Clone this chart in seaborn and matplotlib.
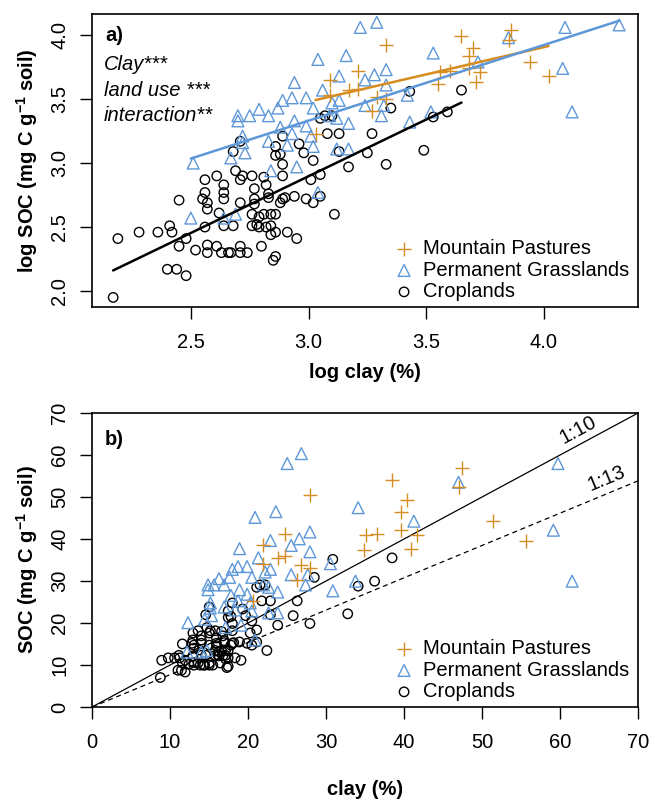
import numpy as np
import pandas as pd
import seaborn as sns
import matplotlib.pyplot as plt

# values (natural log); panel b shows the same samples back-transformed
crop_log_clay = [2.17, 2.19, 2.28, 2.36, 2.41, 2.42, 2.40, 2.44, 2.48, 2.45, 2.48, 2.45, 2.52,
                 2.56, 2.61, 2.64, 2.64, 2.64, 2.55, 2.56, 2.57, 2.57, 2.56, 2.57, 2.57, 2.61,
                 2.63, 2.62, 2.68, 2.64, 2.67, 2.71, 2.71, 2.74, 2.66, 2.69, 2.71, 2.72, 2.76,
                 2.71, 2.77, 2.77, 2.77, 2.76, 2.79, 2.79, 2.81, 2.80, 2.85, 2.82, 2.83, 2.84,
                 2.86, 2.86, 2.84, 2.89, 2.86, 2.89, 2.88, 2.90, 2.91, 2.94, 2.95, 2.98, 2.99,
                 3.02, 3.01, 3.02, 3.05, 3.11, 3.17, 3.25, 3.33, 2.68, 2.88, 2.96, 2.83, 2.89,
                 2.76, 2.78, 2.82, 2.84, 2.86, 2.89, 3.08, 3.05, 3.10, 3.13, 3.27, 3.05, 2.81,
                 3.07, 3.13, 2.86, 2.71, 3.43, 3.35, 3.65, 3.59, 3.53, 3.49]
crop_log_soc = [1.95, 2.41, 2.46, 2.46, 2.51, 2.46, 2.17, 2.17, 2.12, 2.35, 2.41, 2.71, 2.32,
                2.87, 2.90, 2.83, 2.77, 2.72, 2.72, 2.77, 2.69, 2.64, 2.50, 2.36, 2.30, 2.35,
                2.30, 2.61, 2.51, 2.51, 2.30, 2.35, 2.30, 2.30, 2.30, 2.94, 2.87, 2.90, 2.90,
                2.69, 2.80, 2.72, 2.68, 2.51, 2.50, 2.58, 2.60, 2.35, 2.24, 2.83, 2.76, 2.60,
                2.46, 2.60, 2.51, 2.99, 3.06, 2.90, 2.69, 2.73, 2.46, 2.74, 2.41, 3.08, 2.72,
                2.69, 2.87, 3.02, 2.74, 2.60, 2.97, 3.08, 2.99, 3.09, 3.07, 3.15, 2.73, 2.72,
                2.60, 2.52, 2.50, 2.44, 2.27, 3.21, 3.23, 3.35, 3.37, 3.09, 3.23, 2.91, 2.89,
                3.37, 3.23, 3.13, 3.17, 3.56, 3.43, 3.57, 3.40, 3.36, 3.10]

grass_log_clay = [2.51, 2.67, 2.73, 2.72, 2.83, 2.91, 3.02, 2.84, 2.95, 3.04, 2.50, 2.64, 2.69,
                  3.12, 3.17, 3.22, 3.29, 3.04, 3.16, 3.33, 2.94, 3.13, 3.06, 2.99, 2.89, 2.93,
                  2.87, 2.79, 2.75, 2.70, 2.83, 2.94, 3.02, 3.10, 3.13, 3.24, 3.28, 3.24, 3.31,
                  3.17, 3.12, 2.88, 2.93, 3.01, 2.72, 2.70, 4.09, 4.32, 3.85, 3.53, 4.08, 3.72,
                  3.33, 3.42, 3.32, 3.52, 3.43, 4.12, 3.09, 2.99]
grass_log_soc = [3.00, 3.04, 3.08, 3.16, 3.17, 3.14, 3.13, 2.94, 2.97, 2.77, 2.57, 2.57, 2.60,
                 3.11, 3.11, 4.06, 4.10, 3.81, 3.84, 3.73, 3.63, 3.68, 3.57, 3.51, 3.49, 3.51,
                 3.43, 3.42, 3.37, 3.37, 3.37, 3.33, 3.43, 3.47, 3.49, 3.65, 3.69, 3.45, 3.37,
                 3.31, 3.35, 3.28, 3.23, 3.21, 3.21, 3.33, 4.06, 4.08, 3.98, 3.86, 3.74, 3.79,
                 3.61, 3.53, 3.45, 3.40, 3.32, 3.40, 3.37, 3.29]

mount_log_clay = [3.33, 3.21, 3.09, 3.17, 3.21, 3.29, 3.27, 3.03, 3.65, 3.86, 3.85, 3.70, 3.68,
                  3.56, 3.60, 3.68, 3.73, 3.55, 3.71, 3.94, 4.02, 3.33, 3.09]
mount_log_soc = [3.92, 3.72, 3.65, 3.57, 3.58, 3.52, 3.41, 3.23, 3.99, 4.04, 3.96, 3.90, 3.84,
                 3.71, 3.72, 3.74, 3.71, 3.62, 3.63, 3.79, 3.68, 3.50, 3.53]

land_uses = ["Mountain Pastures", "Permanent Grasslands", "Croplands"]
stats_text = ["Clay***", "land use ***", "interaction**"]
ratio_labels = ["1:10", "1:13"]
ratios = [10, 13]

colors = {"Mountain Pastures": "#D68C1E", "Permanent Grasslands": "#5E97D8", "Croplands": "black"}
markers = {"Mountain Pastures": "+", "Permanent Grasslands": "^", "Croplands": "o"}
sizes = {"Mountain Pastures": 100, "Permanent Grasslands": 72, "Croplands": 46}

df = pd.concat([
    pd.DataFrame({"log_clay": crop_log_clay, "log_soc": crop_log_soc, "use": "Croplands"}),
    pd.DataFrame({"log_clay": grass_log_clay, "log_soc": grass_log_soc, "use": "Permanent Grasslands"}),
    pd.DataFrame({"log_clay": mount_log_clay, "log_soc": mount_log_soc, "use": "Mountain Pastures"}),
], ignore_index=True)
df["clay"] = np.exp(df["log_clay"])
df["soc"] = np.exp(df["log_soc"])

sns.set_theme(style="ticks")
plt.rcParams["font.family"] = ["Liberation Sans", "DejaVu Sans"]
plt.rcParams["mathtext.fontset"] = "custom"
plt.rcParams["mathtext.rm"] = "Liberation Sans"
plt.rcParams["mathtext.bf"] = "Liberation Sans:bold"
plt.rcParams["mathtext.it"] = "Liberation Sans:italic"
for key in ["text.color", "axes.labelcolor", "xtick.color", "ytick.color", "axes.edgecolor"]:
    plt.rcParams[key] = "black"

FS = 14.5
fig = plt.figure(figsize=(6.51, 8.05), dpi=100)
ax1 = fig.add_axes([0.1413, 0.6186, 0.8387, 0.3640])
ax2 = fig.add_axes([0.1413, 0.1217, 0.8387, 0.3652])


def draw_points(ax, x, y):
    for use in ["Croplands", "Permanent Grasslands", "Mountain Pastures"]:
        sub = df[df["use"] == use]
        c = colors[use]
        kw = dict(marker=markers[use], s=sizes[use], color=c, linewidth=1.0, label=use, zorder=3)
        if markers[use] != "+":
            kw.update(facecolor="none", edgecolor=c)
        sns.scatterplot(data=sub, x=x, y=y, ax=ax, **kw)


def style_axes(ax, xlabel, ylabel, xpad):
    for sp in ax.spines.values():
        sp.set_visible(True)
        sp.set_linewidth(1.2)
        sp.set_color("black")
    ax.tick_params(length=8.5, width=1.0, color="black", labelcolor="black", labelsize=FS, pad=10)
    ax.tick_params(axis="y", labelrotation=90, pad=8)
    plt.setp(ax.get_yticklabels(), va="center")
    ax.set_xlabel(xlabel, fontsize=FS, fontweight="bold", labelpad=xpad)
    ax.set_ylabel(ylabel, fontsize=FS, fontweight="bold", labelpad=7)
    ax.grid(False)


def add_legend(ax):
    handles, labels = ax.get_legend_handles_labels()
    lookup = dict(zip(labels, handles))
    ax.legend([lookup[u] for u in land_uses], land_uses, loc="lower left",
              bbox_to_anchor=(0.555, 0.02), frameon=False, fontsize=FS,
              borderpad=0, borderaxespad=0, handlelength=0.9, handletextpad=0.5,
              labelspacing=0.12)


# panel a
draw_points(ax1, "log_clay", "log_soc")
for use in land_uses:
    sub = df[df["use"] == use]
    sns.regplot(data=sub, x="log_clay", y="log_soc", ax=ax1, scatter=False, ci=None,
                truncate=True, color=colors[use], line_kws=dict(lw=1.8, zorder=4))
ax1.set_xlim(2.08, 4.40)
ax1.set_ylim(1.875, 4.165)
ax1.set_xticks([2.5, 3.0, 3.5, 4.0])
ax1.set_yticks([2.0, 2.5, 3.0, 3.5, 4.0])
ax1.set_xticklabels(["2.5", "3.0", "3.5", "4.0"])
ax1.set_yticklabels(["2.0", "2.5", "3.0", "3.5", "4.0"])
style_axes(ax1, "log clay (%)", r"log SOC (mg C g$^{\mathbf{-1}}$ soil)", 8)
ax1.text(0.024, 0.928, "a)", transform=ax1.transAxes, fontsize=FS, fontweight="bold",
         ha="left", va="center")
for i, t in enumerate(stats_text):
    ax1.text(0.022, 0.826 - i * 0.0855, t, transform=ax1.transAxes, fontsize=FS,
             style="italic", ha="left", va="center")
add_legend(ax1)

# panel b
draw_points(ax2, "clay", "soc")
for r, lab, ls, xt in zip(ratios, ratio_labels, ["-", "--"], [62.3, 66.0]):
    slope = 10 / r
    if ls == "--":
        ax2.axline((0, 0), slope=slope, color="black", lw=0.9, ls="--", dashes=(4, 3), zorder=2)
    else:
        ax2.axline((0, 0), slope=slope, color="black", lw=0.9, zorder=2)
    ax2.text(xt, xt * slope + 3.6, lab, fontsize=FS, rotation=np.degrees(np.arctan(slope)),
             transform_rotates_text=True, rotation_mode="anchor", ha="center", va="center")
ax2.set_xlim(0, 70)
ax2.set_ylim(0, 70)
ax2.set_xticks(range(0, 71, 10))
ax2.set_yticks(range(0, 71, 10))
style_axes(ax2, "clay (%)", r"SOC (mg C g$^{\mathbf{-1}}$ soil)", 20)
ax2.text(0.024, 0.91, "b)", transform=ax2.transAxes, fontsize=FS, fontweight="bold",
         ha="left", va="center")
add_legend(ax2)

fig.savefig("out.png", dpi=100)
